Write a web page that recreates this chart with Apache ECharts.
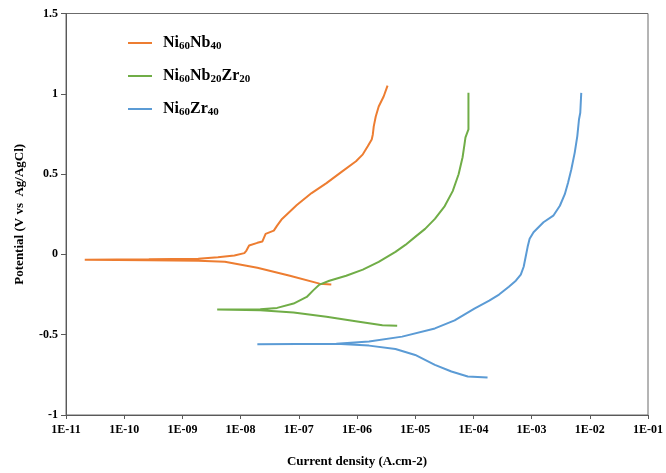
<!DOCTYPE html>
<html>
<head>
<meta charset="utf-8">
<script src="https://cdn.jsdelivr.net/npm/echarts@6/dist/echarts.min.js"></script>
<style>html,body{margin:0;padding:0;background:#fff}#c{width:666px;height:473px}</style>
</head>
<body>
<div id="c"></div>
<script>
// x tick labels (decades)
var xTickLabels = ['1E-11','1E-10','1E-09','1E-08','1E-07','1E-06','1E-05','1E-04','1E-03','1E-02','1E-01'];
var seriesNames = ['Ni60Nb40', 'Ni60Nb20Zr20', 'Ni60Zr40'];

// Ni60Nb40 (current density A/cm2, potential V)
var nbX = [3.62e-7,2.27e-7,7.03e-8,1.94e-8,5.36e-9,1.87e-9,2.65e-10,2.1e-11,2.65e-10,1.87e-9,4.07e-9,7.82e-9,1.16e-8,1.26e-8,1.40e-8,1.94e-8,2.36e-8,2.69e-8,3.72e-8,4.24e-8,5.15e-8,9.25e-8,1.66e-7,2.99e-7,5.36e-7,9.62e-7,1.26e-6,1.53e-6,1.79e-6,1.87e-6,1.94e-6,2.10e-6,2.36e-6,2.87e-6,3.35e-6];
var nbY = [-0.188,-0.182,-0.133,-0.083,-0.046,-0.040,-0.037,-0.033,-0.030,-0.027,-0.017,-0.007,0.008,0.024,0.055,0.072,0.080,0.128,0.148,0.179,0.221,0.307,0.382,0.444,0.512,0.580,0.623,0.673,0.716,0.747,0.797,0.859,0.921,0.983,1.051];

// Ni60Nb20Zr20
var nbzrX = [4.90e-6,2.73e-6,1.08e-6,2.99e-7,8.13e-8,2.18e-8,3.96e-9,2.18e-8,4.24e-8,8.13e-8,1.37e-7,1.77e-7,2.27e-7,3.35e-7,6.52e-7,1.26e-6,2.36e-6,4.58e-6,6.78e-6,1.0e-5,1.48e-5,2.18e-5,3.22e-5,4.41e-5,5.57e-5,6.52e-5,7.03e-5,7.31e-5,8.22e-5,8.22e-5];
var nbzrY = [-0.444,-0.441,-0.419,-0.388,-0.362,-0.348,-0.343,-0.341,-0.333,-0.306,-0.265,-0.224,-0.188,-0.164,-0.133,-0.095,-0.046,0.016,0.059,0.109,0.159,0.221,0.301,0.394,0.499,0.605,0.685,0.729,0.778,1.007];

// Ni60Zr40
var zrX = [1.75e-4,8.0e-5,4.19e-5,2.18e-5,1.0e-5,4.58e-6,1.61e-6,4.41e-7,1.94e-8,4.41e-7,1.61e-6,5.96e-6,2.18e-5,4.76e-5,1.04e-4,1.87e-4,2.76e-4,4.07e-4,5.36e-4,6.52e-4,7.31e-4,7.91e-4,8.55e-4,9.25e-4,1.08e-3,1.60e-3,2.36e-3,3.06e-3,3.72e-3,4.24e-3,4.82e-3,5.51e-3,6.10e-3,6.52e-3,6.86e-3,7.13e-3];
var zrY = [-0.766,-0.760,-0.729,-0.688,-0.626,-0.589,-0.568,-0.557,-0.560,-0.556,-0.543,-0.512,-0.461,-0.411,-0.337,-0.288,-0.250,-0.201,-0.164,-0.126,-0.077,-0.015,0.047,0.097,0.138,0.200,0.241,0.303,0.375,0.448,0.530,0.634,0.737,0.840,0.882,1.006];

var colors = ['#ED7D31', '#70AD47', '#5B9BD5'];

function pairs(xs, ys) { return xs.map(function (x, i) { return [x, ys[i]]; }); }

var legendRich = {
  '0': '{b|Ni}{s|60}{b|Nb}{s|40}',
  '1': '{b|Ni}{s|60}{b|Nb}{s|20}{b|Zr}{s|20}',
  '2': '{b|Ni}{s|60}{b|Zr}{s|40}'
};

var font = '"Liberation Serif", "Times New Roman", serif';
var chart = echarts.init(document.getElementById('c'), null, {renderer: 'canvas'});
chart.setOption({
  animation: false,
  backgroundColor: '#fff',
  color: colors,
  grid: {left: 66, right: 10, top: 13.5, bottom: 56, show: true, borderColor: '#6b6b6b', borderWidth: 1, containLabel: false},
  legend: {
    orient: 'vertical', left: 123, top: 30, itemWidth: 24, itemHeight: 14, itemGap: 16,
    icon: 'path://M0,0 L24,0 L24,2 L0,2 Z',
    data: seriesNames,
    formatter: function (name) { return legendRich[seriesNames.indexOf(name)]; },
    textStyle: {
      fontFamily: font, color: '#000', padding: [0, 0, 0, 6],
      rich: {
        b: {fontFamily: font, fontWeight: 'bold', fontSize: 16, lineHeight: 18, color: '#000'},
        s: {fontFamily: font, fontWeight: 'bold', fontSize: 11, lineHeight: 12, verticalAlign: 'bottom', color: '#000'}
      }
    }
  },
  xAxis: {
    type: 'log', logBase: 10, min: 1e-11, max: 1e-1, interval: 1,
    name: 'Current density (A.cm-2)', nameLocation: 'middle', nameGap: 40,
    nameTextStyle: {fontFamily: font, fontWeight: 'bold', fontSize: 13, color: '#000'},
    axisLine: {onZero: false, lineStyle: {color: '#595959', width: 1}},
    axisTick: {show: true, inside: false, length: 4, lineStyle: {color: '#595959'}},
    splitLine: {show: false},
    minorTick: {show: false},
    axisLabel: {
      fontFamily: font, fontWeight: 'bold', fontSize: 12, color: '#000', margin: 9,
      formatter: function (v) {
        var e = Math.round(Math.log10(v));
        return xTickLabels[e + 11] || '';
      }
    }
  },
  yAxis: {
    type: 'value', min: -1, max: 1.5, interval: 0.5,
    name: 'Potential (V vs  Ag/AgCl)', nameLocation: 'middle', nameGap: 40, nameRotate: 90,
    nameTextStyle: {fontFamily: font, fontWeight: 'bold', fontSize: 13, color: '#000'},
    axisLine: {show: true, onZero: false, lineStyle: {color: '#595959', width: 1}},
    axisTick: {show: true, inside: false, length: 5, lineStyle: {color: '#595959'}},
    splitLine: {show: false},
    axisLabel: {fontFamily: font, fontWeight: 'bold', fontSize: 12, color: '#000', margin: 8}
  },
  series: [
    {name: seriesNames[0], type: 'line', symbol: 'none', lineStyle: {width: 2}, data: pairs(nbX, nbY)},
    {name: seriesNames[1], type: 'line', symbol: 'none', lineStyle: {width: 2}, data: pairs(nbzrX, nbzrY)},
    {name: seriesNames[2], type: 'line', symbol: 'none', lineStyle: {width: 2}, data: pairs(zrX, zrY)}
  ]
});
</script>
</body>
</html>
